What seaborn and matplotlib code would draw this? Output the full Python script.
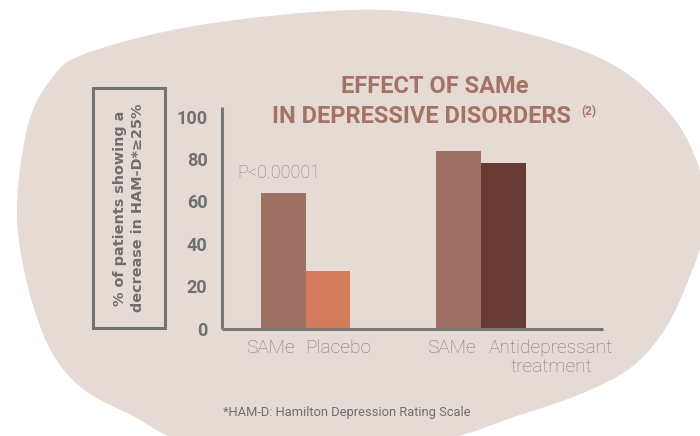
import numpy as np
import pandas as pd
import seaborn as sns
import matplotlib.pyplot as plt
from matplotlib.patches import Polygon, Rectangle

# data
trials = ['Trial 1', 'Trial 1', 'Trial 2', 'Trial 2']
slots = ['left', 'right', 'left', 'right']
arms = ['SAMe', 'Placebo', 'SAMe', 'Antidepressant\ntreatment']
responders = [64, 27, 84, 78]  # % of patients with HAM-D decrease >= 25%
bar_colors = ['#9F7064', '#D57A5A', '#9F7064', '#673A34']
y_ticks = [0, 20, 40, 60, 80, 100]
# label centres (in bar-group units) as set in the original layout
label_pos = [-0.198, 0.184, 0.832, 1.40]

df = pd.DataFrame({'trial': trials, 'slot': slots, 'arm': arms, 'pct': responders})

W, H = 700, 436
fig = plt.figure(figsize=(7, 4.36), dpi=100, facecolor='white')

# background blob (pixel outline, smoothed with catmull-rom)
blob_px = np.array([(87, 53), (200, 25), (350, 10), (450, 17), (550, 40), (617, 67),
                    (667, 110), (693, 152), (706, 200), (702, 240), (690, 276),
                    (667, 326), (633, 366), (583, 393), (517, 416), (433, 442),
                    (300, 455), (187, 442), (133, 416), (83, 389), (50, 349),
                    (27, 283), (17, 210), (28, 125), (52, 78)], dtype=float)
n = len(blob_px)
curve = []
for i in range(n):
    p0, p1, p2, p3 = blob_px[i - 1], blob_px[i], blob_px[(i + 1) % n], blob_px[(i + 2) % n]
    for t in np.linspace(0, 1, 20, endpoint=False):
        curve.append(0.5 * (2 * p1 + (-p0 + p2) * t + (2 * p0 - 5 * p1 + 4 * p2 - p3) * t ** 2
                            + (-p0 + 3 * p1 - 3 * p2 + p3) * t ** 3))
curve = np.array(curve)
curve[:, 0] /= W
curve[:, 1] = 1 - curve[:, 1] / H
fig.patches.append(Polygon(curve, closed=True, transform=fig.transFigure,
                           facecolor='#E6DAD5', edgecolor='none', zorder=-5))

ax = fig.add_axes([222 / W, 1 - 328.5 / H, 381 / W, 221.5 / H])
ax.set_facecolor('none')
ax.set_zorder(1)

sns.barplot(data=df, x='trial', y='pct', hue='slot', hue_order=['left', 'right'],
            palette=['#9F7064', '#D57A5A'], width=0.51, saturation=1,
            legend=False, ax=ax)

# recolour each bar: patches come hue-by-hue (left bars, then right bars)
order = [0, 2, 1, 3]
for patch, k in zip(ax.patches, order):
    patch.set_facecolor(bar_colors[k])
    patch.set_edgecolor('none')

ax.set_xlim(-0.4766, 1.6955)
ax.set_ylim(0, 104.6)

for s in ['top', 'right']:
    ax.spines[s].set_visible(False)
for s in ['left', 'bottom']:
    ax.spines[s].set_color('#767676')
    ax.spines[s].set_linewidth(2.2)
    ax.spines[s].set_capstyle('butt')

ax.set_yticks(y_ticks)
ax.set_yticklabels([str(v) for v in y_ticks], fontfamily='Roboto', fontweight='bold',
                   fontsize=13, color='#707070')
ax.tick_params(axis='y', length=0, pad=10.5)

ax.set_xticks(label_pos)
ax.set_xticklabels(arms, fontfamily='Roboto', fontweight='light', fontsize=13.8,
                   color='#7C7C7C', linespacing=1.1)
ax.tick_params(axis='x', length=0, pad=7.5)
ax.set_xlabel('')
ax.set_ylabel('')

ax.text(-0.392, 73.5, 'P<0.00001', fontfamily='Roboto', fontweight='light', fontsize=13,
        color='#858585', va='center', ha='left')

# boxed y label
fig.patches.append(Rectangle((93 / W, 1 - 328 / H), 72 / W, 240 / H, transform=fig.transFigure,
                             facecolor='none', edgecolor='#727272', linewidth=2.2, zorder=2))
fig.text(129 / W, 1 - 208 / H, '% of patients showing a\ndecrease in HAM-D*≥25%',
         rotation=90, ha='center', va='center', fontfamily=['DejaVu Sans'],
         fontweight='bold', fontsize=10.4, color='#6E6E6E', linespacing=1.45)

# title
title_c = '#A57366'
fig.text(434.5 / W, 1 - 93 / H, 'EFFECT OF SAMe', ha='center', va='baseline',
         fontfamily='Roboto', fontweight='bold', fontsize=17, color=title_c)
fig.text(422 / W, 1 - 123.3 / H, 'IN DEPRESSIVE DISORDERS', ha='center', va='baseline',
         fontfamily='Roboto', fontweight='bold', fontsize=17, color=title_c)
fig.text(581 / W, 1 - 115 / H, '(2)', ha='left', va='baseline',
         fontfamily='Roboto', fontweight='bold', fontsize=8.5, color=title_c)

fig.text(223 / W, 1 - 412 / H, '*HAM-D: Hamilton Depression Rating Scale', ha='left',
         va='center', fontfamily='Roboto', fontsize=9.3, color='#6E6E6E')

plt.savefig('out.png', dpi=100)
